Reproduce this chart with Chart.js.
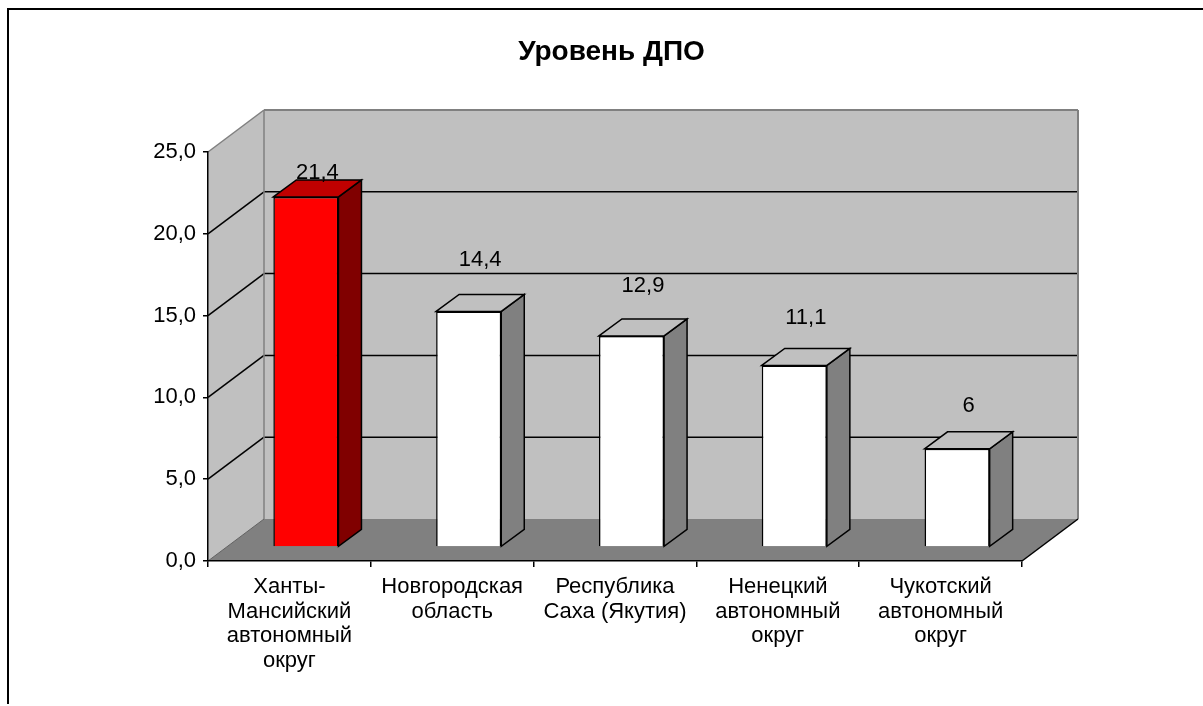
<!DOCTYPE html>
<html>
<head>
<meta charset="utf-8">
<script src="https://cdn.jsdelivr.net/npm/chart.js@4.4.1/dist/chart.umd.min.js"></script>
<style>
  html, body { margin: 0; padding: 0; background: #fff; }
  canvas { display: block; }
</style>
</head>
<body>
<canvas id="chartContainer" width="1203" height="706"></canvas>
<script>
const categories = [
  ['Ханты-', 'Мансийский', 'автономный', 'округ'],
  ['Новгородская', 'область'],
  ['Республика', 'Саха (Якутия)'],
  ['Ненецкий', 'автономный', 'округ'],
  ['Чукотский', 'автономный', 'округ']
];
const values = [21.4, 14.4, 12.9, 11.1, 6];
const yTicks = [0, 5, 10, 15, 20, 25];

// 3d look
const DEPTH = { x: 56, y: -42 };
const BAR_SHIFT = { x: 16.5, y: -14 };
const BAR_DEPTH = { x: 23, y: -17 };
const labelLift = [24, 51, 50, 47, 43];
const frontColors = ['#FF0000', '#FFFFFF', '#FFFFFF', '#FFFFFF', '#FFFFFF'];
const topColors = ['#C00000', '#C0C0C0', '#C0C0C0', '#C0C0C0', '#C0C0C0'];
const sideColors = ['#800000', '#808080', '#808080', '#808080', '#808080'];

function poly(ctx, pts, fill, stroke, lw) {
  ctx.beginPath();
  pts.forEach((p, i) => i ? ctx.lineTo(p[0], p[1]) : ctx.moveTo(p[0], p[1]));
  ctx.closePath();
  if (fill) {
    ctx.fillStyle = fill;
    ctx.fill();
  }
  if (stroke) {
    ctx.strokeStyle = stroke;
    ctx.lineWidth = lw || 1.5;
    ctx.stroke();
  }
}

function line(ctx, x1, y1, x2, y2, color, lw) {
  ctx.beginPath();
  ctx.moveTo(x1, y1);
  ctx.lineTo(x2, y2);
  ctx.strokeStyle = color;
  ctx.lineWidth = lw;
  ctx.stroke();
}

const walls = {
  id: 'walls',
  beforeDraw(chart) {
    const { ctx, chartArea: a, scales: { y } } = chart;
    ctx.save();
    ctx.fillStyle = '#fff';
    ctx.fillRect(0, 0, chart.width, chart.height);

    // frame round the chart
    ctx.beginPath();
    ctx.moveTo(8, 704);
    ctx.lineTo(8, 9);
    ctx.lineTo(chart.width, 9);
    ctx.strokeStyle = '#000';
    ctx.lineWidth = 2;
    ctx.stroke();

    const bl = a.left + DEPTH.x, br = a.right + DEPTH.x;
    const bt = a.top + DEPTH.y, bb = a.bottom + DEPTH.y;
    poly(ctx, [[a.left, a.top], [bl, bt], [bl, bb], [a.left, a.bottom]], '#C0C0C0');
    poly(ctx, [[bl, bt], [br, bt], [br, bb], [bl, bb]], '#C0C0C0');
    poly(ctx, [[a.left, a.bottom], [bl, bb], [br, bb], [a.right, a.bottom]], '#808080');

    y.ticks.forEach((t) => {
      const py = y.getPixelForValue(t.value);
      if (t.value === y.max) {
        line(ctx, a.left, py, bl, py + DEPTH.y, '#808080', 1.5);
        line(ctx, bl, py + DEPTH.y, br, py + DEPTH.y, '#808080', 2);
      } else if (t.value === y.min) {
        line(ctx, a.left, py, bl, py + DEPTH.y, '#606060', 1);
      } else {
        line(ctx, a.left, py, bl, py + DEPTH.y, '#000', 1.5);
        line(ctx, bl, py + DEPTH.y, br, py + DEPTH.y, '#000', 1.5);
      }
    });
    line(ctx, bl, bt, bl, bb, '#808080', 1.5);
    line(ctx, br, bt, br, bb, '#808080', 2);
    line(ctx, a.right, a.bottom, br, bb, '#000', 1.5);
    ctx.restore();
  }
};

const bars3d = {
  id: 'bars3d',
  beforeDatasetsDraw(chart) {
    chart.ctx.save();
    chart.ctx.translate(BAR_SHIFT.x, BAR_SHIFT.y);
  },
  afterDatasetsDraw(chart) {
    const ctx = chart.ctx;
    const bars = chart.getDatasetMeta(0).data;
    bars.forEach((bar, i) => {
      const { x, y, base, width } = bar.getProps(['x', 'y', 'base', 'width'], true);
      const l = x - width / 2, r = x + width / 2;
      const dx = BAR_DEPTH.x, dy = BAR_DEPTH.y;
      poly(ctx, [[r, y], [r + dx, y + dy], [r + dx, base + dy], [r, base]], sideColors[i], '#000', 1.5);
      poly(ctx, [[l, y], [l + dx, y + dy], [r + dx, y + dy], [r, y]], topColors[i], '#000', 1.5);
    });
    ctx.restore();

    ctx.save();
    ctx.font = '22px "Liberation Sans", Arial, sans-serif';
    ctx.fillStyle = '#000';
    ctx.textAlign = 'center';
    ctx.textBaseline = 'middle';
    bars.forEach((bar, i) => {
      const txt = String(values[i]).replace('.', ',');
      ctx.fillText(txt, bar.x + BAR_SHIFT.x + BAR_DEPTH.x / 2, bar.y + BAR_SHIFT.y - labelLift[i]);
    });
    ctx.restore();
  }
};

Chart.defaults.font.family = '"Liberation Sans", Arial, sans-serif';
Chart.defaults.color = '#000';

new Chart(document.getElementById('chartContainer'), {
  type: 'bar',
  data: {
    labels: categories,
    datasets: [{
      data: values,
      backgroundColor: frontColors,
      borderColor: '#000',
      borderWidth: 1.5,
      barPercentage: 0.4,
      categoryPercentage: 1
    }]
  },
  options: {
    responsive: false,
    animation: false,
    layout: { padding: { left: 20, top: 0, right: 0, bottom: 0 } },
    plugins: {
      legend: { display: false },
      tooltip: { enabled: false },
      title: {
        display: true,
        text: 'Уровень ДПО',
        color: '#000',
        font: { size: 28, weight: 'bold' },
        padding: { top: 35, bottom: 83.4 }
      }
    },
    scales: {
      x: {
        grid: { offset: true, drawOnChartArea: false, color: '#000', lineWidth: 1.5, tickLength: 6 },
        border: { color: '#000', width: 1.5 },
        ticks: { font: { size: 22, lineHeight: 1.11 }, padding: 8, maxRotation: 0, autoSkip: false, color: '#000' },
        afterFit: (s) => { s.height = 145; }
      },
      y: {
        min: 0,
        max: 25,
        grid: { drawOnChartArea: false, color: '#000', lineWidth: 1.5, tickLength: 5 },
        border: { color: '#000', width: 1.5 },
        ticks: {
          font: { size: 22 },
          padding: 7,
          color: '#000',
          callback: (v) => v.toFixed(1).replace('.', ',')
        },
        afterBuildTicks: (s) => { s.ticks = yTicks.map((v) => ({ value: v })); },
        afterFit: (s) => { s.width = 188; }
      },
      pad: {
        position: 'right',
        grid: { display: false },
        border: { display: false },
        ticks: { display: false },
        afterFit: (s) => { s.width = 181; }
      }
    }
  },
  plugins: [walls, bars3d]
});
</script>
</body>
</html>
